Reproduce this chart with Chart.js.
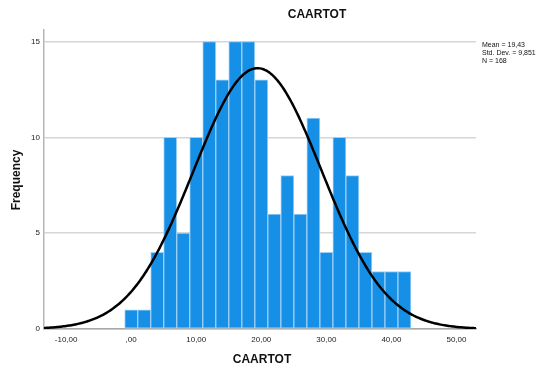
<!DOCTYPE html>
<html>
<head>
<meta charset="utf-8">
<script src="https://cdn.jsdelivr.net/npm/chart.js@4/dist/chart.umd.min.js"></script>
<style>
  html, body { margin: 0; padding: 0; background: #ffffff; }
  #wrap { width: 547px; height: 369px; position: relative; }
</style>
</head>
<body>
<div id="wrap"><canvas id="c" width="547" height="369"></canvas></div>
<script>
// Histogram of CAARTOT: bin centres (width 2) and their frequencies
const binCenters = [0, 2, 4, 6, 8, 10, 12, 14, 16, 18, 20, 22, 24, 26, 28, 30, 32, 34, 36, 38, 40, 42];
const frequencies = [1, 1, 4, 10, 5, 10, 15, 13, 15, 15, 13, 6, 8, 6, 11, 4, 10, 8, 4, 3, 3, 3];
const binWidth = 2;

// Summary statistics shown beside the plot
const statMean = 19.43;
const statSD = 9.851;
const statN = 168;
const statLines = ['Mean = 19,43', 'Std. Dev. = 9,851', 'N = 168'];

// Axis settings
const xMin = -13.4, xMax = 53.0;
const xTickValues = [-10, 0, 10, 20, 30, 40, 50];
const yMax = 15.6;
const yTickValues = [0, 5, 10, 15];

const chartTitle = 'CAARTOT';
const xTitle = 'CAARTOT';
const yTitle = 'Frequency';

const FONT = "'Liberation Sans', Arial, Helvetica, sans-serif";

// Normal curve scaled to counts: N * binWidth * pdf(x)
const curve = [];
for (let x = xMin; x <= xMax + 1e-9; x += 0.2) {
  const z = (x - statMean) / statSD;
  const y = statN * binWidth * Math.exp(-0.5 * z * z) / (statSD * Math.sqrt(2 * Math.PI));
  curve.push({ x: x, y: y });
}

function spssNumber(v) {
  let s = v.toFixed(2).replace('.', ',');
  if (s.startsWith('0,')) s = s.slice(1);
  return s;
}

// Titles and the statistics block
const textPlugin = {
  id: 'texts',
  afterDraw(chart) {
    const ctx = chart.ctx;
    ctx.save();
    ctx.fillStyle = '#111';
    ctx.textBaseline = 'middle';
    ctx.textAlign = 'center';
    ctx.font = 'bold 12px ' + FONT;
    ctx.fillText(chartTitle, 317, 15);
    ctx.fillText(xTitle, 262, 360);
    ctx.save();
    ctx.translate(17, 180);
    ctx.rotate(-Math.PI / 2);
    ctx.fillText(yTitle, 0, 0);
    ctx.restore();
    ctx.textAlign = 'left';
    ctx.font = '7px ' + FONT;
    statLines.forEach((t, i) => ctx.fillText(t, 482, 45 + i * 8));
    ctx.restore();
  }
};

new Chart(document.getElementById('c'), {
  type: 'bar',
  data: {
    datasets: [
      {
        type: 'line',
        data: curve,
        borderColor: '#000',
        borderWidth: 2.5,
        pointRadius: 0,
        tension: 0,
        fill: false,
        order: 0
      },
      {
        type: 'bar',
        data: binCenters.map((c, i) => ({ x: c, y: frequencies[i] })),
        backgroundColor: '#1590e6',
        borderColor: '#9fd0f5',
        borderWidth: 1,
        borderSkipped: false,
        barPercentage: 1,
        categoryPercentage: 1,
        order: 1
      }
    ]
  },
  options: {
    responsive: false,
    animation: false,
    events: [],
    layout: { padding: { left: 0, right: 71, top: 30, bottom: 0 } },
    plugins: {
      legend: { display: false },
      title: { display: false },
      tooltip: { enabled: false }
    },
    scales: {
      x: {
        type: 'linear',
        min: xMin,
        max: xMax,
        offset: false,
        afterBuildTicks(s) { s.ticks = xTickValues.map(v => ({ value: v })); },
        afterFit(s) { s.height = 40; },
        grid: { display: false, drawTicks: false },
        border: { display: true, color: '#a8a8a8', width: 1.5 },
        ticks: {
          padding: 6,
          maxRotation: 0,
          autoSkip: false,
          color: '#222',
          font: { family: FONT, size: 8 },
          callback: v => spssNumber(v)
        }
      },
      y: {
        type: 'linear',
        min: 0,
        max: yMax,
        afterBuildTicks(s) { s.ticks = yTickValues.map(v => ({ value: v })); },
        afterFit(s) { s.width = 44; },
        grid: { color: '#d6d6d6', lineWidth: 1.5, drawTicks: false },
        border: { display: true, color: '#b5b5b5', width: 1.5 },
        ticks: {
          padding: 4,
          color: '#222',
          font: { family: FONT, size: 8 },
          callback: v => String(v)
        }
      }
    }
  },
  plugins: [textPlugin]
});
</script>
</body>
</html>
